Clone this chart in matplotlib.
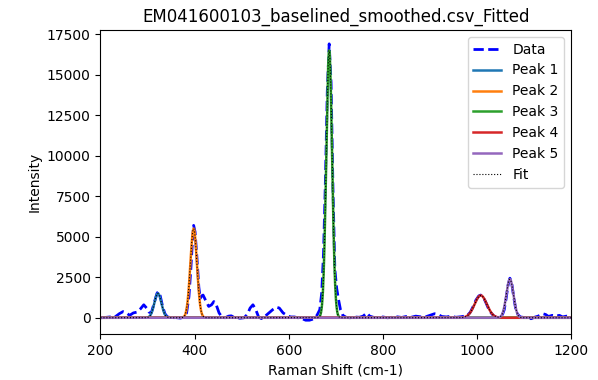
import numpy as np
import matplotlib
matplotlib.use("Agg")
import matplotlib.pyplot as plt

# measured (smoothed, baselined) spectrum
data_x = [200, 210, 220, 230, 240, 248, 255, 262, 270, 278, 285, 292, 298, 303, 308,
          310, 315, 320, 323, 327, 332, 337, 342, 350, 360, 370, 378, 383, 388, 392,
          396, 398, 401, 405, 409, 412, 415, 418, 423, 430, 436, 441, 446, 452, 458,
          465, 472, 478, 484, 490, 496, 505, 512, 518, 524, 530, 536, 542, 550, 558,
          566, 574, 580, 588, 596, 604, 612, 620, 628, 636, 644, 652, 660, 666, 670,
          674, 678, 682, 686, 690, 694, 698, 702, 706, 710, 715, 722, 730, 740, 750,
          758, 766, 772, 780, 790, 800, 810, 820, 830, 840, 850, 860, 870, 880, 890,
          900, 910, 918, 925, 935, 945, 955, 965, 974, 980, 986, 992, 998, 1004, 1008,
          1013, 1018, 1024, 1030, 1036, 1042, 1048, 1053, 1058, 1062, 1066, 1070, 1074, 1078, 1082,
          1087, 1092, 1100, 1108, 1115, 1122, 1130, 1140, 1146, 1152, 1160, 1168, 1175, 1182, 1190,
          1200]
data_y = [0, 20, 50, 30, 250, 380, 300, 150, 300, 350, 550, 800, 600, 350, 300,
          500, 1000, 1500, 1620, 1350, 700, 250, 60, 0, 10, -20, 50, 300, 1300, 3000,
          5000, 5700, 5300, 3700, 1900, 1200, 1350, 1400, 1100, 700, 800, 1000, 800, 300, 50,
          0, 100, 120, 20, 30, -30, 0, 200, 600, 800, 500, 50, -50, 100, 300,
          500, 650, 600, 300, 150, 50, 50, 0, -50, -150, -150, -80, 150, 500, 1500,
          4000, 8500, 14000, 16900, 14500, 8000, 3000, 1800, 1100, 500, 150, 30, 0, 50, 30,
          100, 300, 100, 30, 0, 50, 0, 30, 60, 20, 80, 30, 100, 60, 50,
          150, 250, 200, 80, 50, 100, 30, 60, 100, 150, 350, 700, 1100, 1350, 1400,
          1300, 1000, 600, 300, 100, 20, 30, 100, 500, 1200, 2000, 2440, 2100, 1300, 600,
          200, 50, 20, 0, -60, 30, 100, 250, 200, 80, 150, 100, 150, 50, 100,
          80]

# fitted gaussian peaks
peak_centers = [322, 398, 686, 1008, 1070]
peak_amps = [1500, 5500, 16500, 1380, 2380]
peak_sigmas = [7.5, 7.0, 6.2, 13.0, 7.5]
peak_labels = ['Peak 1', 'Peak 2', 'Peak 3', 'Peak 4', 'Peak 5']


def gaussian(x, a, c, s):
    return a * np.exp(-(x - c) ** 2 / (2 * s ** 2))


if __name__ == '__main__':
    x = np.linspace(200, 1200, 2000)
    fig = plt.figure(figsize=(5.98, 3.8), dpi=100)
    ax = fig.add_axes([0.168, 0.121, 0.787, 0.800])
    ax.plot(data_x, data_y, 'b--', linewidth=2, label='Data')
    fit = np.zeros_like(x)
    for c, a, s, lab in zip(peak_centers, peak_amps, peak_sigmas, peak_labels):
        y = gaussian(x, a, c, s)
        fit += y
        ax.plot(x, y, linewidth=1.8, label=lab)
    ax.plot(x, fit, 'k:', linewidth=0.8, label='Fit')
    ax.set_xlim(200, 1200)
    ax.set_title("EM041600103_baselined_smoothed.csv_Fitted")
    ax.set_xlabel("Raman Shift (cm-1)")
    ax.set_ylabel("Intensity")
    ax.legend(loc='upper right')
    plt.savefig("out.png", dpi=100)
